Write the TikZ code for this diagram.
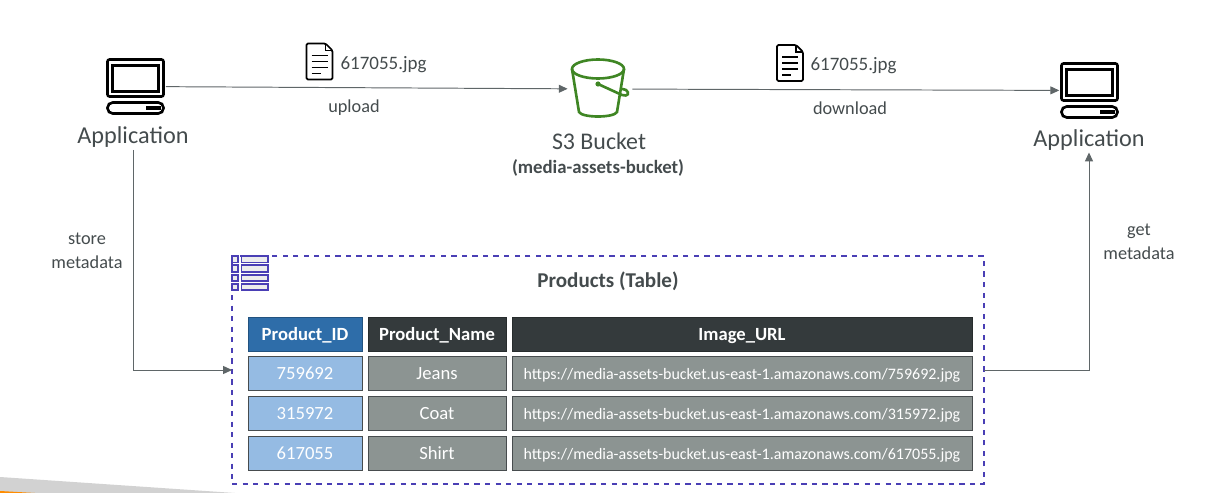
\documentclass[tikz,border=0pt]{standalone}
\usepackage{fontspec}
\setmainfont{Carlito}
\usetikzlibrary{arrows.meta}
\definecolor{linegray}{HTML}{5F6668}
\definecolor{textgray}{HTML}{444B4D}
\definecolor{frameblue}{HTML}{4A3FB5}
\definecolor{headblue}{HTML}{2E6DA9}
\definecolor{headdark}{HTML}{343A3C}
\definecolor{celllight}{HTML}{95BBE3}
\definecolor{cellgray}{HTML}{8C9492}
\definecolor{bucketgreen}{HTML}{3F8624}
\def\px{0.02cm}
\tikzset{
  flow/.style={draw=linegray, line width=0.55pt, -{Triangle[length=5pt,width=4.5pt]}},
  iconbox/.style={inner sep=0pt, outer sep=0pt, minimum width=#1*\px},
  txt/.style={text=textgray, inner sep=1pt, align=center},
  cell/.style={draw=#1!75!black, inner sep=0pt, outer sep=0pt, minimum height=34*\px, text=white, text height=7pt, text depth=0pt, font=\fontsize{10.6}{12}\selectfont},
  cell/.default=gray,
  laptop/.pic={
    \draw[line width=1.5pt, rounded corners=1.2pt] (-28,-27) rectangle (28,10);
    \draw[line width=1.2pt] (-23,-21) rectangle (23,5);
    \draw[line width=1.5pt, rounded corners=3pt] (-28,16) rectangle (28,27);
    \fill (10,19.5) rectangle (25,23.5);
  },
  docicon/.pic={
    \draw[line width=1pt, line join=round, rounded corners=0.8pt] (-13,-18) -- (6,-18) -- (13,-11) -- (13,18) -- (-13,18) -- cycle;
    \draw[line width=0.9pt] (6,-18) -- (6,-11) -- (13,-11);
    \draw[line width=0.9pt] (-8,-6) -- (8,-6) (-8,0) -- (8,0) (-8,6) -- (8,6) (-8,12) -- (1,12);
  },
  bucketicon/.pic={
    \draw[bucketgreen, line width=1.5pt] (-2,-20) ellipse [x radius=26*\px, y radius=9.5*\px];
    \draw[bucketgreen, line width=1.5pt] (-28,-20) -- (-21,23) .. controls (-18,29) and (14,29) .. (17,23) -- (24,-20);
    \fill[bucketgreen] (-2,-5) circle [radius=2.6*\px];
    \draw[bucketgreen, line width=1.5pt] (-2,-5) -- (22,6) .. controls (28,8) and (30,4) .. (26,1) .. controls (24,0) and (22,0) .. (21,0);
  },
  tableicon/.pic={
    \foreach \r in {0,1,2,3}{
      \draw[frameblue, line width=1.1pt, fill=gray!15] (0,9.3*\r) rectangle (6,9.3*\r+6.5);
      \draw[frameblue, line width=1.1pt, fill=gray!15] (9.5,9.3*\r) rectangle (36,9.3*\r+6.5);
    }
  }
}
\begin{document}
\begin{tikzpicture}[x=\px, y=-\px]
\useasboundingbox (0,0) rectangle (1208,493);
% corner of the slide
\fill[gray!35] (0,477) -- (235,493) -- (0,493) -- cycle;
\fill[orange!90!yellow] (0,491) -- (35,493) -- (0,493) -- cycle;
% top row
\node[iconbox=57, minimum height=55*\px] (app1) at (135.5,86.5) {};
\pic at (app1.center) {laptop};
\node[iconbox=57, minimum height=55*\px] (app2) at (1089.5,90.5) {};
\pic at (app2.center) {laptop};
\node[iconbox=56, minimum height=58*\px] (bucket) at (600,89) {};
\pic at (bucket.center) {bucketicon};
\node[iconbox=27, minimum height=37*\px] (doc1) at (319.5,61.5) {};
\pic at (doc1.center) {docicon};
\node[iconbox=27, minimum height=37*\px] (doc2) at (790,63) {};
\pic at (doc2.center) {docicon};
\node[txt, font=\fontsize{13.8}{16}\selectfont] (lblapp1) at (133,137.5) {Application};
\node[txt, font=\fontsize{13.8}{16}\selectfont] (lblapp2) at (1089,140) {Application};
\node[txt, font=\fontsize{13.6}{16}\selectfont] (lblbucket) at (599,141) {S3 Bucket};
\node[txt, font=\bfseries\fontsize{10.7}{12}\selectfont] (lblname) at (598,167.5) {(media-assets-bucket)};
\node[txt, font=\fontsize{10.8}{13}\selectfont] (file1) at (383.5,65) {617055.jpg};
\node[txt, font=\fontsize{10.8}{13}\selectfont] (file2) at (853.5,66) {617055.jpg};
\node[txt, font=\fontsize{10.4}{12}\selectfont] (upload) at (354,108) {upload};
\node[txt, font=\fontsize{10.4}{12}\selectfont] (download) at (850,108.5) {download};
\node[txt, font=\fontsize{10.4}{13.6}\selectfont] (store) at (87,250.5) {store\\metadata};
\node[txt, font=\fontsize{10.4}{13.6}\selectfont] (get) at (1139,242) {get\\metadata};
% table
\node[draw=frameblue, dashed, line width=0.7pt, inner sep=0pt, outer sep=0pt, minimum width=752*\px, minimum height=228*\px] (products) at (608,370) {};
\pic at (232,256) {tableicon};
\node[txt, font=\bfseries\fontsize{12}{14}\selectfont] (title) at (608,281) {Products (Table)};
\node[cell=headblue, fill=headblue, minimum width=114*\px, font=\bfseries\fontsize{10.6}{12}\selectfont] (headid) at (305,334) {Product\_ID};
\node[cell=headdark, fill=headdark, minimum width=138*\px, font=\bfseries\fontsize{10.6}{12}\selectfont] (headname) at (437,334) {Product\_Name};
\node[cell=headdark, fill=headdark, minimum width=460*\px, font=\bfseries\fontsize{10.6}{12}\selectfont] (headurl) at (742,334) {Image\_URL};
\foreach \r/\yy/\pid/\pname in {1/373/759692/Jeans, 2/413/315972/Coat, 3/453/617055/Shirt}{
  \node[cell=linegray, fill=celllight, minimum width=114*\px] (id\r) at (305,\yy) {\pid};
  \node[cell=linegray, fill=cellgray, minimum width=138*\px] (name\r) at (437,\yy) {\pname};
  \node[cell=linegray, fill=cellgray, minimum width=460*\px, font=\fontsize{9.1}{11}\selectfont] (url\r) at (742,\yy) {https://media-assets-bucket.us-east-1.amazonaws.com/\pid.jpg};
}
% connectors
\draw[flow, shorten <=1pt, shorten >=2.5pt] (app1) -- (bucket);
\draw[flow, shorten <=2.5pt, shorten >=1pt] (bucket) -- (app2);
\draw[flow] (lblapp1.south) |- (products.west);
\draw[flow] (products.east) -| (lblapp2.south);
\end{tikzpicture}
\end{document}
